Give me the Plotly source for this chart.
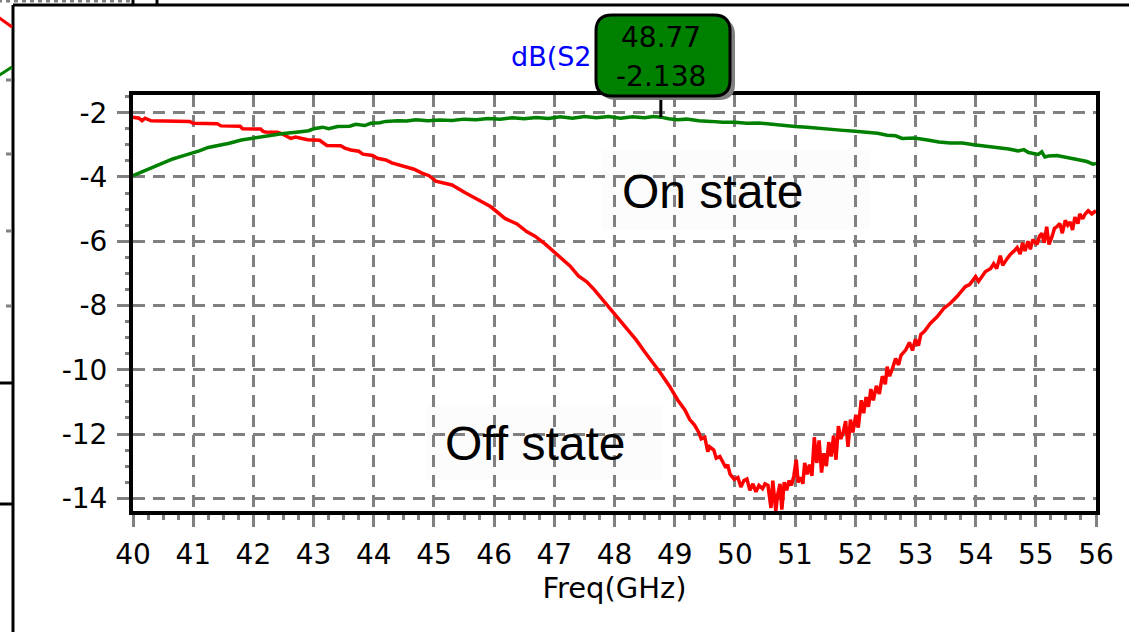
import plotly.graph_objects as go

# ---- measured transmission, dB(S21) vs frequency ----
off_freq = [
    40.00, 40.10, 40.15, 40.20, 40.30, 40.60, 40.94, 41.00, 41.40, 41.46,
    41.78, 41.82, 42.12, 42.16, 42.20, 42.40, 42.48, 42.56, 42.62, 42.70,
    42.82, 42.90, 43.10, 43.18, 43.22, 43.45, 43.52, 43.62, 43.75, 43.82,
    43.98, 44.06, 44.20, 44.30, 44.45, 44.55, 44.67, 44.80, 44.92, 45.03,
    45.30, 45.52, 45.69, 45.94, 46.18, 46.38, 46.54, 46.68, 46.85, 47.07,
    47.26, 47.40, 47.54, 47.67, 47.81, 47.92, 48.09, 48.23, 48.36, 48.50,
    48.61, 48.75, 48.92, 49.05, 49.17, 49.25, 49.33, 49.40, 49.44, 49.50,
    49.55, 49.58, 49.65, 49.69, 49.75, 49.80, 49.85, 49.88, 49.92, 49.99,
    50.05, 50.10, 50.15, 50.20, 50.25, 50.30, 50.35, 50.40, 50.46, 50.50,
    50.55, 50.60, 50.63, 50.68, 50.71, 50.75, 50.78, 50.82, 50.86, 50.90,
    50.94, 50.98, 51.02, 51.05, 51.10, 51.13, 51.16, 51.20, 51.24, 51.28,
    51.32, 51.36, 51.40, 51.44, 51.48, 51.52, 51.56, 51.60, 51.64, 51.68,
    51.72, 51.76, 51.80, 51.84, 51.88, 51.92, 51.96, 52.01, 52.05, 52.10,
    52.14, 52.18, 52.22, 52.26, 52.30, 52.35, 52.40, 52.45, 52.50, 52.53,
    52.57, 52.62, 52.67, 52.72, 52.76, 52.84, 52.90, 52.95, 53.00, 53.05,
    53.09, 53.15, 53.25, 53.36, 53.47, 53.58, 53.69, 53.83, 53.90, 54.00,
    54.05, 54.16, 54.25, 54.30, 54.35, 54.41, 54.45, 54.52, 54.58, 54.64,
    54.69, 54.74, 54.78, 54.82, 54.87, 54.91, 54.95, 55.02, 55.06, 55.10,
    55.14, 55.18, 55.22, 55.27, 55.31, 55.35, 55.40, 55.44, 55.49, 55.53,
    55.57, 55.61, 55.65, 55.70, 55.73, 55.78, 55.82, 55.87, 55.93, 56.00,
]
off_db = [
    -2.14, -2.17, -2.25, -2.17, -2.25, -2.25, -2.27, -2.33, -2.34, -2.41,
    -2.42, -2.50, -2.51, -2.58, -2.60, -2.61, -2.66, -2.74, -2.80, -2.76,
    -2.80, -2.84, -2.86, -2.95, -3.02, -3.03, -3.10, -3.16, -3.20, -3.29,
    -3.33, -3.42, -3.47, -3.56, -3.63, -3.70, -3.76, -3.88, -3.96, -4.13,
    -4.25, -4.49, -4.67, -4.92, -5.29, -5.46, -5.70, -5.84, -6.09, -6.46,
    -6.77, -7.08, -7.26, -7.52, -7.83, -8.09, -8.45, -8.76, -9.07, -9.44,
    -9.70, -10.06, -10.53, -10.94, -11.25, -11.55, -11.72, -11.95, -12.15, -12.10,
    -12.55, -12.40, -12.50, -12.75, -12.70, -12.85, -13.05, -12.95, -13.25, -13.41,
    -13.35, -13.65, -13.45, -13.40, -13.75, -13.55, -13.80, -13.60, -13.70, -13.55,
    -13.60, -14.30, -13.45, -14.40, -13.90, -13.55, -14.35, -13.50, -13.75, -13.45,
    -13.60, -13.30, -12.80, -13.50, -13.35, -13.55, -12.90, -13.25, -12.95, -13.30,
    -12.10, -12.90, -12.20, -13.20, -12.60, -13.00, -12.25, -12.70, -12.05, -12.80,
    -11.75, -12.15, -11.95, -11.60, -12.40, -11.55, -11.95, -11.40, -11.80, -10.95,
    -11.35, -10.85, -11.15, -10.60, -10.95, -10.50, -10.75, -10.20, -10.45, -9.90,
    -10.20, -9.95, -9.65, -9.85, -9.55, -9.38, -9.15, -9.40, -9.05, -9.25,
    -8.90, -8.80, -8.55, -8.35, -8.09, -7.93, -7.72, -7.41, -7.35, -7.10,
    -7.25, -6.95, -6.85, -6.70, -6.85, -6.45, -6.75, -6.55, -6.40, -6.30,
    -6.20, -6.40, -6.05, -6.30, -6.00, -6.25, -5.95, -6.10, -5.85, -5.75,
    -6.05, -5.55, -6.10, -5.85, -5.60, -5.55, -5.45, -5.75, -5.35, -5.50,
    -5.40, -5.65, -5.25, -5.45, -5.15, -5.30, -5.15, -5.05, -5.15, -5.05,
]

on_freq = [
    40.00, 40.10, 40.20, 40.30, 40.40, 40.52, 40.66, 40.80, 40.93, 41.10,
    41.25, 41.42, 41.60, 41.80, 42.05, 42.30, 42.50, 42.75, 42.92, 43.00,
    43.15, 43.25, 43.40, 43.60, 43.70, 43.85, 43.95, 44.10, 44.20, 44.40,
    44.55, 44.70, 44.90, 45.10, 45.30, 45.50, 45.70, 45.90, 46.10, 46.30,
    46.50, 46.70, 46.90, 47.10, 47.30, 47.50, 47.70, 47.90, 48.10, 48.30,
    48.50, 48.65, 48.77, 48.90, 49.05, 49.20, 49.40, 49.60, 49.80, 50.00,
    50.20, 50.40, 50.60, 50.80, 51.00, 51.20, 51.40, 51.60, 51.80, 52.00,
    52.15, 52.37, 52.53, 52.67, 52.78, 52.98, 53.20, 53.39, 53.58, 53.78,
    53.97, 54.19, 54.35, 54.55, 54.71, 54.80, 54.88, 55.04, 55.10, 55.15,
    55.21, 55.35, 55.54, 55.71, 55.85, 55.95, 56.00,
]
on_db = [
    -3.96, -3.88, -3.78, -3.70, -3.62, -3.53, -3.44, -3.36, -3.29, -3.19,
    -3.08, -3.02, -2.95, -2.85, -2.77, -2.70, -2.65, -2.60, -2.56, -2.50,
    -2.45, -2.50, -2.43, -2.42, -2.36, -2.40, -2.33, -2.31, -2.27, -2.25,
    -2.26, -2.22, -2.25, -2.23, -2.24, -2.20, -2.22, -2.18, -2.20, -2.16,
    -2.19, -2.15, -2.18, -2.13, -2.17, -2.12, -2.16, -2.12, -2.17, -2.13,
    -2.16, -2.12, -2.138, -2.19, -2.22, -2.20, -2.25, -2.27, -2.30, -2.30,
    -2.33, -2.32, -2.36, -2.38, -2.43, -2.45, -2.49, -2.52, -2.55, -2.58,
    -2.60, -2.64, -2.70, -2.72, -2.80, -2.79, -2.85, -2.91, -2.94, -2.94,
    -3.00, -3.04, -3.08, -3.13, -3.19, -3.15, -3.24, -3.30, -3.22, -3.38,
    -3.35, -3.33, -3.40, -3.46, -3.52, -3.60, -3.58,
]

# marker readout placed on the on-state trace
marker_freq = 48.77
marker_db = -2.138

x_ticks = list(range(40, 57))
y_ticks = [-14, -12, -10, -8, -6, -4, -2]
y_tick_text = ["-14", "-12", "-10", "-8", "-6", "-4", "-2"]

# ---- geometry of the page (pixels) ----
W, H = 1129, 632
PL, PR, PT, PB = 133, 1096, 95, 511
X_RANGE = [40, 56]
Y_RANGE = [-14.395, -1.449]

GRID = "#808080"
TICK_FONT = dict(family="DejaVu Sans", size=28, color="black")


def px(xp):
    return (xp - PL) / (PR - PL)


def py(yp):
    return (PB - yp) / (PB - PT)


def y_paper(v):
    return (v - Y_RANGE[0]) / (Y_RANGE[1] - Y_RANGE[0])


def rounded_rect(x0, y0, x1, y1, r):
    pts = [
        ("M", x0 + r, y0), ("L", x1 - r, y0), ("Q", x1, y0, x1, y0 + r),
        ("L", x1, y1 - r), ("Q", x1, y1, x1 - r, y1), ("L", x0 + r, y1),
        ("Q", x0, y1, x0, y1 - r), ("L", x0, y0 + r), ("Q", x0, y0, x0 + r, y0),
    ]
    out = []
    for p in pts:
        cmd, coords = p[0], p[1:]
        xy = []
        for i in range(0, len(coords), 2):
            xy.append(f"{px(coords[i]):.5f},{py(coords[i + 1]):.5f}")
        out.append(cmd + " " + " ".join(xy))
    return " ".join(out) + " Z"


fig = go.Figure()
fig.add_trace(go.Scatter(x=off_freq, y=off_db, mode="lines",
                         line=dict(color="#ff0000", width=3.5), name="Off state"))
fig.add_trace(go.Scatter(x=on_freq, y=on_db, mode="lines",
                         line=dict(color="#008000", width=3.5), name="On state"))

shapes = []
# backing boxes behind the state labels (hide the grid)
shapes.append(dict(type="rect", xref="paper", yref="paper", layer="between",
                   x0=px(602), x1=px(869), y0=py(230), y1=py(150),
                   fillcolor="#fcfcfc", line=dict(width=0)))
shapes.append(dict(type="rect", xref="paper", yref="paper", layer="between",
                   x0=px(427), x1=px(663), y0=py(480), y1=py(405),
                   fillcolor="#fcfcfc", line=dict(width=0)))

# outer window frame and pieces of the neighbouring window
frame = dict(color="black", width=3)
shapes.append(dict(type="line", xref="paper", yref="paper",
                   x0=px(13), x1=px(W + 5), y0=py(5), y1=py(5), line=frame))
shapes.append(dict(type="line", xref="paper", yref="paper",
                   x0=px(13), x1=px(13), y0=py(5), y1=py(H + 5), line=frame))
shapes.append(dict(type="line", xref="paper", yref="paper",
                   x0=px(-2), x1=px(130), y0=py(1), y1=py(1),
                   line=dict(color=GRID, width=3, dash="4px,4px")))
for sx in (133, 157):
    shapes.append(dict(type="line", xref="paper", yref="paper",
                       x0=px(sx), x1=px(sx), y0=py(-2), y1=py(4), line=frame))
shapes.append(dict(type="line", xref="paper", yref="paper",
                   x0=px(-2), x1=px(12), y0=py(17), y1=py(27),
                   line=dict(color="#ff0000", width=3)))
shapes.append(dict(type="line", xref="paper", yref="paper",
                   x0=px(-2), x1=px(12), y0=py(76), y1=py(67),
                   line=dict(color="#008000", width=3)))
for ty in (80, 154, 231, 306):
    shapes.append(dict(type="line", xref="paper", yref="paper",
                       x0=px(6), x1=px(12), y0=py(ty), y1=py(ty),
                       line=dict(color=GRID, width=3)))
for ty in (383, 504):
    shapes.append(dict(type="line", xref="paper", yref="paper",
                       x0=px(-2), x1=px(13), y0=py(ty), y1=py(ty), line=frame))

# marker readout box with drop shadow and leader line
shapes.append(dict(type="line", xref="x", yref="paper",
                   x0=marker_freq, x1=marker_freq,
                   y0=y_paper(marker_db), y1=py(96),
                   line=dict(color="black", width=3)))
shapes.append(dict(type="path", xref="paper", yref="paper",
                   path=rounded_rect(600, 19, 735, 100, 16),
                   fillcolor=GRID, line=dict(width=0)))
shapes.append(dict(type="path", xref="paper", yref="paper",
                   path=rounded_rect(596, 15, 730, 96, 16),
                   fillcolor="#008000", line=dict(color="black", width=3)))

annotations = [
    dict(text="dB(S2", xref="paper", yref="paper", x=px(594), y=py(56),
         xanchor="right", yanchor="middle", showarrow=False,
         font=dict(family="DejaVu Sans", size=27, color="#0000ff")),
    dict(text=f"{marker_freq:.2f}", xref="x", yref="paper", x=marker_freq,
         y=py(37), xanchor="center", yanchor="middle", showarrow=False,
         font=TICK_FONT),
    dict(text=f"{marker_db:.3f}", xref="x", yref="paper", x=marker_freq,
         y=py(77), xanchor="center", yanchor="middle", showarrow=False,
         font=TICK_FONT),
    dict(text="On state", xref="paper", yref="paper", x=px(712), y=py(192),
         xanchor="center", yanchor="middle", showarrow=False,
         font=dict(family="Liberation Sans", size=48, color="black")),
    dict(text="Off state", xref="paper", yref="paper", x=px(535), y=py(443),
         xanchor="center", yanchor="middle", showarrow=False,
         font=dict(family="Liberation Sans", size=48, color="black")),
]

axis_common = dict(
    showline=True, linecolor="black", linewidth=4, mirror=True,
    showgrid=True, gridcolor=GRID, gridwidth=3, griddash="12px,8px",
    zeroline=False, ticks="outside", ticklen=12, tickwidth=3,
    tickcolor=GRID, tickfont=TICK_FONT,
)

fig.update_layout(
    width=W, height=H,
    margin=dict(l=PL, r=W - PR, t=PT, b=H - PB, pad=0),
    paper_bgcolor="white", plot_bgcolor="white",
    showlegend=False,
    shapes=shapes, annotations=annotations,
    xaxis=dict(range=X_RANGE, tickvals=x_ticks,
               ticktext=[str(v) for v in x_ticks],
               minor=dict(dtick=0.25, tick0=40, ticks="outside", ticklen=5,
                          tickwidth=3, tickcolor=GRID, showgrid=False),
               title=dict(text="Freq(GHz)", standoff=6,
                          font=dict(family="DejaVu Sans", size=29, color="black")),
               ticklabelstandoff=3,
               **axis_common),
    yaxis=dict(range=Y_RANGE, tickvals=y_ticks, ticktext=y_tick_text,
               minor=dict(dtick=0.5, tick0=-14, ticks="outside", ticklen=4,
                          tickwidth=3, tickcolor=GRID, showgrid=False),
               ticklabelstandoff=4,
               **axis_common),
)

fig.write_html("out.html")
